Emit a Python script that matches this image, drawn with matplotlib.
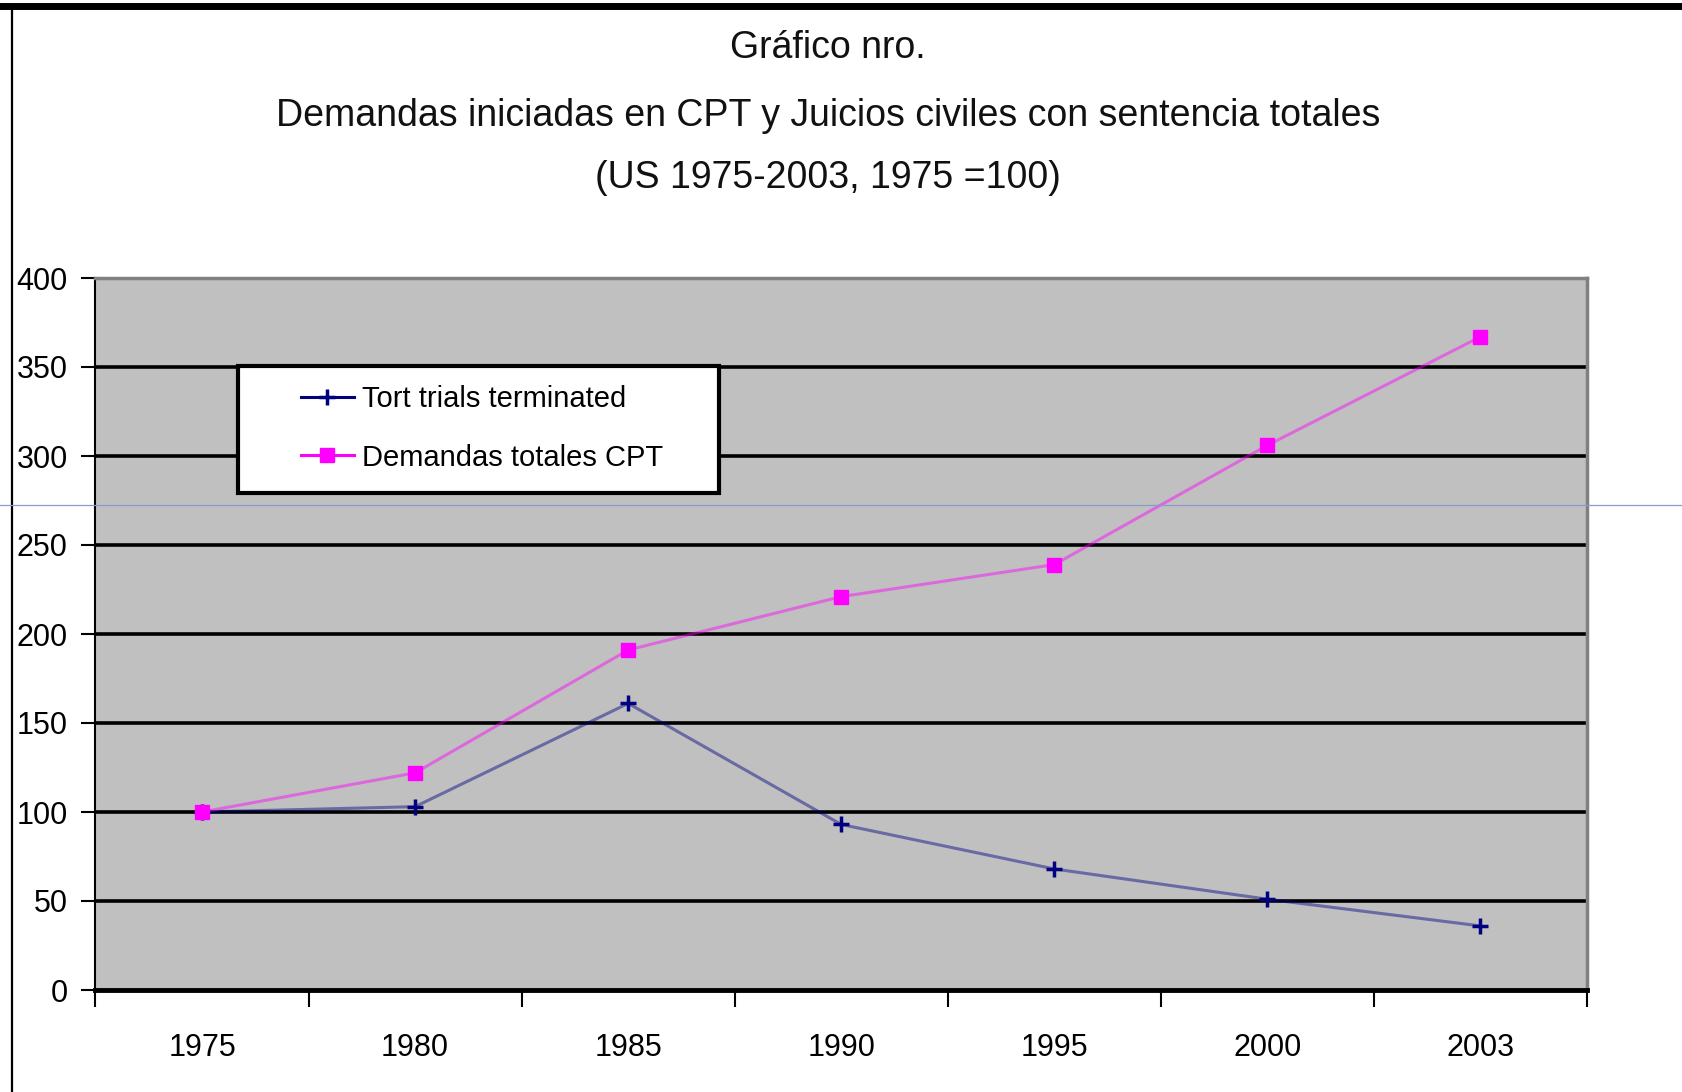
import matplotlib
matplotlib.use("Agg")
import matplotlib.pyplot as plt
from matplotlib.lines import Line2D
from matplotlib.patches import Rectangle
from matplotlib.font_manager import fontManager

categories = ["1975", "1980", "1985", "1990", "1995", "2000", "2003"]
tort_trials = [100, 103, 161, 93, 68, 51, 36]
demandas_cpt = [100, 122, 191, 221, 239, 306, 367]
y_ticks = [0, 50, 100, 150, 200, 250, 300, 350, 400]
title_lines = ["Gráfico nro.",
               "Demandas iniciadas en CPT y Juicios civiles con sentencia totales",
               "(US 1975-2003, 1975 =100)"]
series_names = ["Tort trials terminated", "Demandas totales CPT"]

names = {f.name for f in fontManager.ttflist}
narrow = "Liberation Sans Narrow" if "Liberation Sans Narrow" in names else "Liberation Sans"
plt.rcParams["font.family"] = [narrow, "DejaVu Sans"]

W, H = 1683, 1092
fig = plt.figure(figsize=(W / 100, H / 100), dpi=100)
fig.patch.set_facecolor("white")

# outer frame
fig.add_artist(Line2D([0, 1], [1 - 6 / H, 1 - 6 / H], transform=fig.transFigure, color="black", lw=5))
fig.add_artist(Line2D([12 / W, 12 / W], [0, 1 - 6 / H], transform=fig.transFigure, color="black", lw=1.6))
# thin stray blue line
fig.add_artist(Line2D([0, 1], [1 - 505 / H, 1 - 505 / H], transform=fig.transFigure, color="#8a9ad0", lw=0.9))

for t, yp in zip(title_lines, [48, 116, 178]):
    fig.text(0.492, 1 - yp / H, t, ha="center", va="center", fontsize=27, color="#111111")

left, right, top, bottom = 95.5, 1587, 278, 990
ax = fig.add_axes([left / W, 1 - bottom / H, (right - left) / W, (bottom - top) / H])
ax.set_facecolor("#c0c0c0")

x = list(range(len(categories)))
for yv in y_ticks[1:-1]:
    ax.axhline(yv, color="black", lw=2.6, zorder=1)

ax.plot(x, tort_trials, color="#000080", lw=2.2, alpha=0.45, zorder=2)
ax.plot(x, demandas_cpt, color="#ff00ff", lw=2.2, alpha=0.45, zorder=2)
ax.plot(x, tort_trials, ls="none", marker="+", ms=12, mew=2.5, color="#000080", zorder=3)
ax.plot(x, demandas_cpt, ls="none", marker="s", ms=10, color="#ff00ff", zorder=3)

ax.set_xlim(-0.5, len(categories) - 0.5)
ax.set_ylim(0, 400)
ax.set_yticks(y_ticks)
ax.set_yticklabels([str(v) for v in y_ticks], fontsize=22)
ax.set_xticks([i - 0.5 for i in range(len(categories) + 1)])
ax.set_xticklabels([])
ax.set_xticks(x, minor=True)
ax.set_xticklabels(categories, minor=True, fontsize=22)
ax.tick_params(axis="x", which="minor", length=0, pad=31)
ax.tick_params(axis="x", which="major", length=12, width=1.5, direction="out")
ax.tick_params(axis="y", length=10, width=1.5, pad=10)

for s in ["top", "right"]:
    ax.spines[s].set_color("#808080")
    ax.spines[s].set_linewidth(2.5)
ax.spines["bottom"].set_color("black")
ax.spines["bottom"].set_linewidth(3.5)
ax.spines["left"].set_color("black")
ax.spines["left"].set_linewidth(1.5)

# legend frame
ax.add_patch(Rectangle((0.0955, 0.698), 0.418 - 0.0955, 0.876 - 0.698, transform=ax.transAxes,
                       facecolor="white", edgecolor="black", lw=3, zorder=5))
h1 = Line2D([], [], color="#000080", lw=2.2, marker="+", ms=12, mew=2.5)
h2 = Line2D([], [], color="#ff00ff", lw=2.2, marker="s", ms=10)
leg = ax.legend([h1, h2], series_names, loc="center left",
                bbox_to_anchor=(0.1375, 0.789), fontsize=21, frameon=False,
                handlelength=1.84, borderpad=0, labelspacing=1.05,
                borderaxespad=0, handletextpad=0.25)
leg.set_zorder(6)

fig.savefig("out.png", dpi=100, facecolor="white")
